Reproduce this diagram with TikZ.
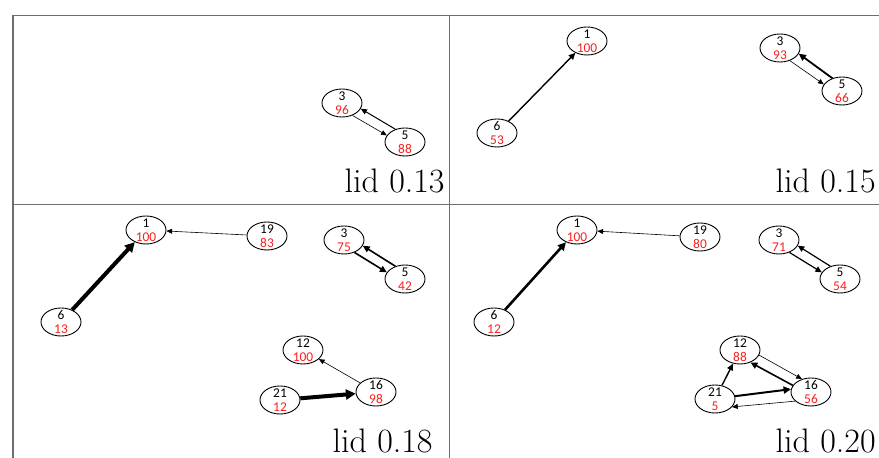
\documentclass[tikz,border=0pt]{standalone}
\usepackage{fontspec}
\newfontfamily\numfont{Carlito}
\usetikzlibrary{shapes.geometric,arrows.meta}
\definecolor{numred}{RGB}{250,30,30}
\definecolor{framegray}{RGB}{110,110,110}
\newcommand{\vlab}[2]{#1\\\textcolor{numred}{#2}}
\tikzset{
  vert/.style={draw, ellipse, line width=0.45pt, minimum width=20pt, minimum height=14pt,
    inner xsep=0pt, inner ysep=-0.9pt, align=center,
    font=\numfont\fontsize{6.7}{7}\selectfont},
  edge/.style={-{Triangle[length=2.5pt 1.2,width=2pt 1.5]}},
  lid/.style={anchor=base east, inner sep=0pt, font=\fontsize{17}{19}\selectfont}
}
\begin{document}
\begin{tikzpicture}[x=0.5pt,y=-0.5pt]
  \useasboundingbox (0,0) rectangle (879,458);
  % Frame
  \draw[framegray, line width=0.6pt] (13,458) -- (13,15.5) -- (879,15.5);
  \draw[framegray, line width=0.6pt] (13,204.5) -- (879,204.5);
  \draw[framegray, line width=0.6pt] (449.5,15.5) -- (449.5,458);

  % Define nodes
  \node[vert] (a3) at (342,103) {\vlab{3}{96}};
  \node[vert] (a5) at (405,142) {\vlab{5}{88}};

  \node[vert] (b1) at (587,41) {\vlab{1}{100}};
  \node[vert] (b6) at (497,133) {\vlab{6}{53}};
  \node[vert] (b3) at (780,48) {\vlab{3}{93}};
  \node[vert] (b5) at (842,91) {\vlab{5}{66}};

  \node[vert] (c1) at (146,230) {\vlab{1}{100}};
  \node[vert] (c19) at (267,236) {\vlab{19}{83}};
  \node[vert] (c6) at (61,322) {\vlab{6}{13}};
  \node[vert] (c3) at (344,240) {\vlab{3}{75}};
  \node[vert] (c5) at (405,279) {\vlab{5}{42}};
  \node[vert] (c12) at (303,350) {\vlab{12}{100}};
  \node[vert] (c16) at (376,392) {\vlab{16}{98}};
  \node[vert] (c21) at (280,400) {\vlab{21}{12}};

  \node[vert] (d1) at (577,230) {\vlab{1}{100}};
  \node[vert] (d19) at (700,237) {\vlab{19}{80}};
  \node[vert] (d6) at (494,322) {\vlab{6}{12}};
  \node[vert] (d3) at (779,240) {\vlab{3}{71}};
  \node[vert] (d5) at (840,279) {\vlab{5}{54}};
  \node[vert] (d12) at (740,350) {\vlab{12}{88}};
  \node[vert] (d16) at (811,392) {\vlab{16}{56}};
  \node[vert] (d21) at (715,399) {\vlab{21}{5}};

  % Panel labels
  \node[lid] (la) at (445,193) {lid 0.13};
  \node[lid] (lb) at (876,193) {lid 0.15};
  \node[lid] (lc) at (433,453) {lid 0.18};
  \node[lid] (ld) at (876,453) {lid 0.20};

  % Draw edges
  \draw[edge, line width=0.3pt] (a3.-50) -- (a5.160);
  \draw[edge, line width=0.5pt] (a5.127) -- (a3.-17);

  \draw[edge, line width=0.7pt] (b6) -- (b1);
  \draw[edge, line width=0.3pt] (b3.-52) -- (b5.160);
  \draw[edge, line width=0.9pt] (b5.127) -- (b3.-17);

  \draw[edge, line width=2pt] (c6) -- (c1);
  \draw[edge, line width=0.3pt] (c19) -- (c1);
  \draw[edge, line width=0.8pt] (c3.-50) -- (c5.160);
  \draw[edge, line width=0.8pt] (c5.127) -- (c3.-17);
  \draw[edge, line width=0.3pt] (c16) -- (c12);
  \draw[edge, line width=2pt] (c21) -- (c16);

  \draw[edge, line width=1.3pt] (d6) -- (d1);
  \draw[edge, line width=0.3pt] (d19) -- (d1);
  \draw[edge, line width=0.6pt] (d3.-50) -- (d5.160);
  \draw[edge, line width=0.6pt] (d5.127) -- (d3.-17);
  \draw[edge, line width=0.7pt] (d21) -- (d12);
  \draw[edge, line width=0.3pt] (d12.-15) -- (d16.125);
  \draw[edge, line width=0.8pt] (d16.160) -- (d12.-50);
  \draw[edge, line width=1pt] (d21.8) -- (d16.172);
  \draw[edge, line width=0.3pt] (d16.-150) -- (d21.-25);
\end{tikzpicture}
\end{document}
